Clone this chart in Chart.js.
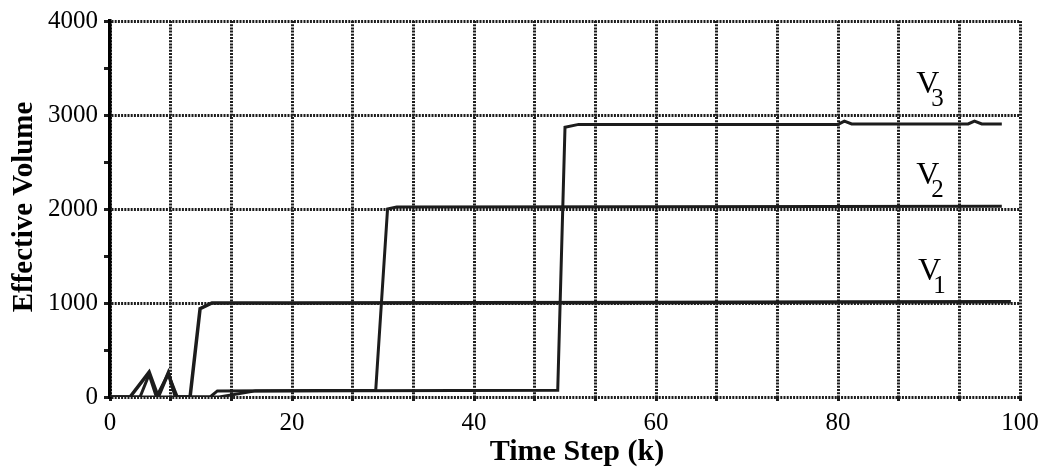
<!DOCTYPE html>
<html>
<head>
<meta charset="utf-8">
<script src="https://cdn.jsdelivr.net/npm/chart.js@4/dist/chart.umd.min.js"></script>
<style>
  html, body { margin: 0; padding: 0; background: #fff; }
  #wrap { width: 1059px; height: 470px; }
</style>
</head>
<body>
<div id="wrap"><canvas id="c" width="1059" height="470"></canvas></div>
<script>
// Time steps (k) and effective volumes for the three volume estimates
const v1Steps  = [0, 2.2, 4.3, 5.3, 6.4, 7.2, 8.8, 9.9, 11.2, 20, 40, 60, 80, 99];
const v1Values = [0, 0, 265, 0, 255, 0, 0, 940, 1000, 1000, 1002, 1005, 1010, 1012];

const v2Steps  = [0, 3.3, 4.3, 5.1, 6.4, 7.4, 11, 11.8, 29.2, 30.5, 31.5, 60, 98];
const v2Values = [0, 0, 240, 0, 245, 0, 0, 65, 72, 2000, 2020, 2025, 2030];

const v3Steps  = [0, 12, 16, 49.2, 50.0, 51.5, 80.0, 80.7, 81.5, 94.3, 95.0, 95.8, 98];
const v3Values = [0, 0, 65, 72, 2870, 2900, 2900, 2935, 2905, 2905, 2935, 2905, 2905];

const seriesNames = ['V1', 'V2', 'V3'];
const xTickLabels = [0, 20, 40, 60, 80, 100];
const yTickLabels = [0, 1000, 2000, 3000, 4000];
const xTitle = 'Time Step (k)';
const yTitle = 'Effective Volume';

const SERIF = "'Liberation Serif', 'Times New Roman', serif";
const INK = '#1c1c1c';

function toPoints(steps, values) {
  return steps.map((k, i) => ({ x: k, y: values[i] }));
}

// Draws the V₁ / V₂ / V₃ tags beside each plateau and the two axis titles
const annotations = {
  id: 'annotations',
  afterDraw(chart) {
    const { ctx, chartArea, scales: { x, y } } = chart;
    const anchors = [[88.8, 1241], [88.6, 2271], [88.6, 3236]];
    ctx.save();
    ctx.fillStyle = '#000';
    ctx.textBaseline = 'alphabetic';
    ctx.textAlign = 'left';
    seriesNames.forEach((name, i) => {
      const px = x.getPixelForValue(anchors[i][0]);
      const py = y.getPixelForValue(anchors[i][1]);
      ctx.font = '32px ' + SERIF;
      ctx.fillText(name.charAt(0), px, py);
      const w = ctx.measureText(name.charAt(0)).width;
      ctx.font = '25px ' + SERIF;
      ctx.fillText(name.slice(1), px + w - 8, py + 13);
    });

    ctx.textAlign = 'center';
    ctx.font = 'bold 30px ' + SERIF;
    ctx.fillText(xTitle, (chartArea.left + chartArea.right) / 2 + 12, chartArea.bottom + 63);

    ctx.translate(32, (chartArea.top + chartArea.bottom) / 2 - 2);
    ctx.rotate(-Math.PI / 2);
    ctx.font = 'bold 29px ' + SERIF;
    ctx.fillText(yTitle, 0, 0);
    ctx.restore();
  }
};

const lineStyle = { borderColor: INK, borderWidth: 3, pointRadius: 0, tension: 0, fill: false };

new Chart(document.getElementById('c'), {
  type: 'line',
  data: {
    datasets: [
      Object.assign({ label: seriesNames[0], data: toPoints(v1Steps, v1Values) }, lineStyle, { borderWidth: 3.5 }),
      Object.assign({ label: seriesNames[1], data: toPoints(v2Steps, v2Values) }, lineStyle),
      Object.assign({ label: seriesNames[2], data: toPoints(v3Steps, v3Values) }, lineStyle)
    ]
  },
  options: {
    responsive: false,
    animation: false,
    layout: { padding: { top: 20, right: 39, bottom: 2, left: 0 } },
    plugins: { legend: { display: false }, tooltip: { enabled: false } },
    scales: {
      x: {
        type: 'linear',
        min: xTickLabels[0],
        max: xTickLabels[xTickLabels.length - 1],
        afterBuildTicks(scale) {
          // vertical rules every 1/15 of the range, labelled every 20 steps
          const n = 15, lo = scale.min, hi = scale.max;
          scale.ticks = Array.from({ length: n + 1 }, (_, i) => ({ value: lo + (hi - lo) * i / n }));
        },
        afterFit(scale) { scale.height = 71; },
        ticks: {
          autoSkip: false,
          maxRotation: 0,
          padding: 7,
          color: '#000',
          font: { family: SERIF, size: 25 },
          callback(v) {
            const r = Math.round(v);
            return (Math.abs(v - r) < 1e-6 && xTickLabels.includes(r)) ? String(r) : '';
          }
        },
        grid: { color: INK, lineWidth: 3, tickLength: 4 },
        border: { display: false, dash: [2, 1.2] }
      },
      y: {
        type: 'linear',
        min: yTickLabels[0],
        max: yTickLabels[yTickLabels.length - 1],
        afterBuildTicks(scale) {
          // major rules at the labelled values, short marks half-way between
          const t = [];
          for (let i = 0; i < yTickLabels.length; i++) {
            t.push({ value: yTickLabels[i] });
            if (i < yTickLabels.length - 1) t.push({ value: (yTickLabels[i] + yTickLabels[i + 1]) / 2 });
          }
          scale.ticks = t;
        },
        afterFit(scale) { scale.width = 110; },
        ticks: {
          autoSkip: false,
          padding: 6,
          color: '#000',
          font: { family: SERIF, size: 25 },
          callback(v) { return yTickLabels.includes(v) ? String(v) : ''; }
        },
        grid: {
          color: (c) => (c.tick && yTickLabels.includes(c.tick.value)) ? INK : 'rgba(0,0,0,0)',
          tickColor: INK,
          lineWidth: 3,
          tickLength: 6
        },
        border: { display: true, color: '#000', width: 3.5, dash: [2, 1.2] }
      }
    }
  },
  plugins: [annotations]
});
</script>
</body>
</html>
